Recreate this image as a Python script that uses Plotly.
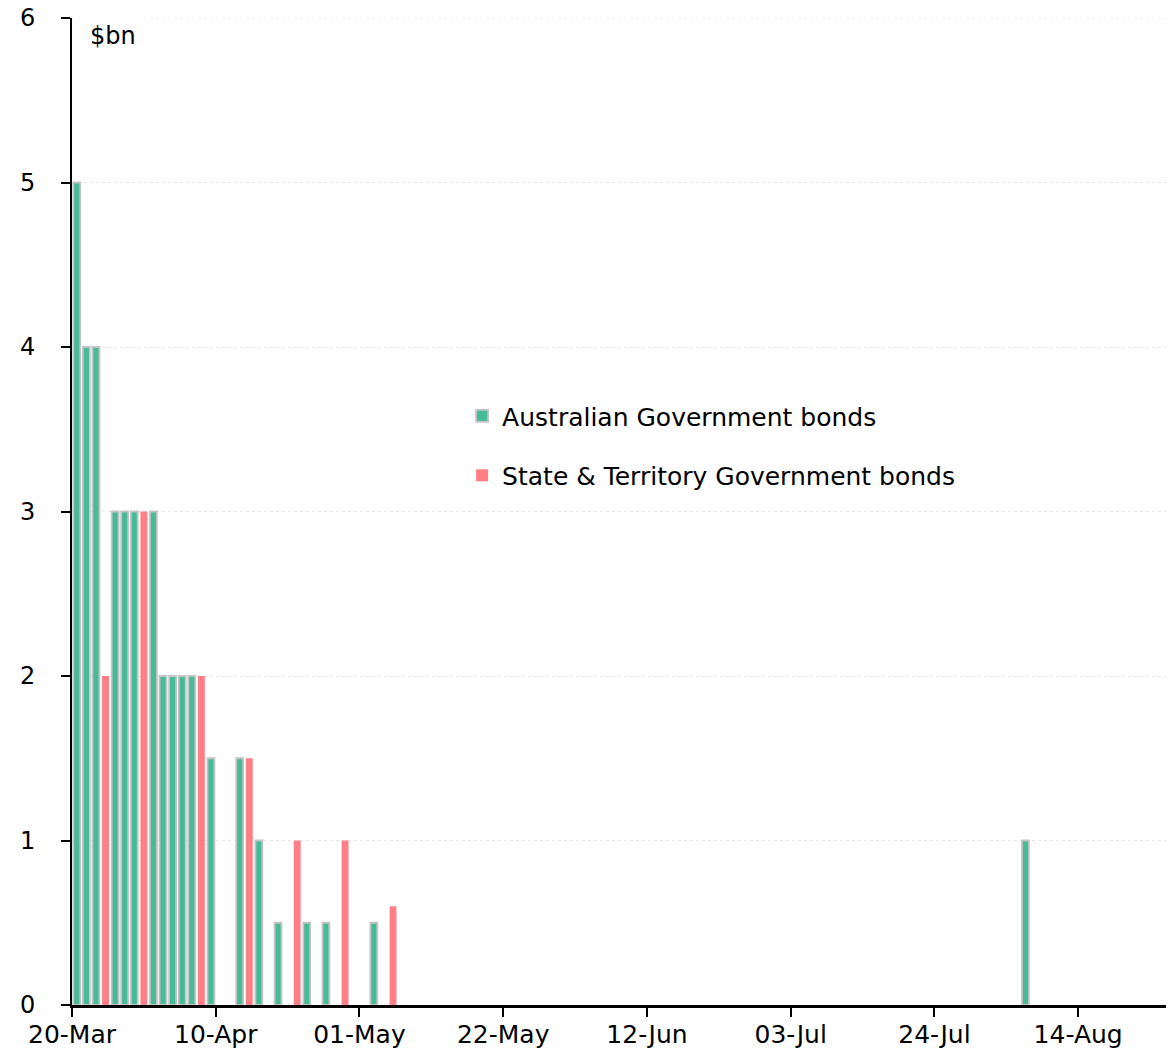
import plotly.graph_objects as go

# RBA purchases of government bonds, 2020 ($bn per day)
acgb_dates = ['2020-03-20', '2020-03-23', '2020-03-24', '2020-03-26', '2020-03-27',
              '2020-03-30', '2020-04-01', '2020-04-02', '2020-04-03', '2020-04-06',
              '2020-04-07', '2020-04-09', '2020-04-14', '2020-04-16', '2020-04-20',
              '2020-04-23', '2020-04-27', '2020-05-04', '2020-08-06']
acgb_values = [5, 4, 4, 3, 3, 3, 3, 2, 2, 2, 2, 1.5, 1.5, 1, 0.5, 0.5, 0.5, 0.5, 1]

semi_dates = ['2020-03-25', '2020-03-31', '2020-04-08', '2020-04-15', '2020-04-22',
              '2020-04-29', '2020-05-06']
semi_values = [2, 3, 2, 1.5, 1, 1, 0.6]

FONT = 'DejaVu Sans'
DAY = 86400000
Y_MAX = 6

fig = go.Figure()

fig.add_trace(go.Bar(
    x=acgb_dates, y=acgb_values,
    name='Australian Government bonds',
    xperiod=DAY, xperiodalignment='middle',
    width=0.72 * DAY,
    marker=dict(color='#45BB98', line=dict(color='#C4C4C4', width=1.8)),
    legendgroup='a',
))
fig.add_trace(go.Bar(
    x=semi_dates, y=semi_values,
    name='State & Territory Government bonds',
    xperiod=DAY, xperiodalignment='middle',
    width=0.72 * DAY,
    marker=dict(color='#FF7F86', line=dict(color='#FF7F86', width=0)),
    legendgroup='b',
))

# page body adds an 8px margin, so size the figure to fit the window
fig.update_layout(
    width=1166, height=1044,
    margin=dict(l=64, r=0, t=10, b=47, autoexpand=False),
    plot_bgcolor='white', paper_bgcolor='white',
    barmode='overlay',
    font=dict(family=FONT, size=25, color='black'),
    showlegend=True,
    legend=dict(x=0.354, y=0.62, xanchor='left', yanchor='top',
                font=dict(size=25), tracegroupgap=24,
                bgcolor='rgba(0,0,0,0)'),
)

fig.update_xaxes(
    type='date',
    range=['2020-03-20', '2020-08-28'],
    rangebreaks=[dict(bounds=['sat', 'mon'])],
    tick0='2020-03-20', dtick=21 * DAY,
    tickformat='%d-%b',
    showline=True, linecolor='black', linewidth=2.5,
    ticks='outside', ticklen=9, tickwidth=2, tickcolor='black',
    showgrid=False, zeroline=False, automargin=False,
    tickfont=dict(size=25), ticklabelstandoff=-4,
)
fig.update_yaxes(
    range=[0, Y_MAX], dtick=1,
    showline=True, linecolor='black', linewidth=2,
    ticks='outside', ticklen=9, tickwidth=2, tickcolor='black',
    showgrid=True, gridcolor='#E6E6E6', griddash='dot', gridwidth=1,
    zeroline=False, automargin=False,
    tickfont=dict(size=24), ticklabelstandoff=21,
    ticklabeloverflow='allow',
)

# top gridline (plotly drops the one at the range end)
fig.add_hline(y=Y_MAX, line=dict(color='#E6E6E6', width=1, dash='dot'), layer='below')

fig.add_annotation(
    text='$bn', xref='paper', yref='paper', x=0.008, y=1, yshift=5,
    xanchor='left', yanchor='top', showarrow=False,
    font=dict(size=24), bgcolor='white', borderpad=8,
)

fig.write_html('out.html')
